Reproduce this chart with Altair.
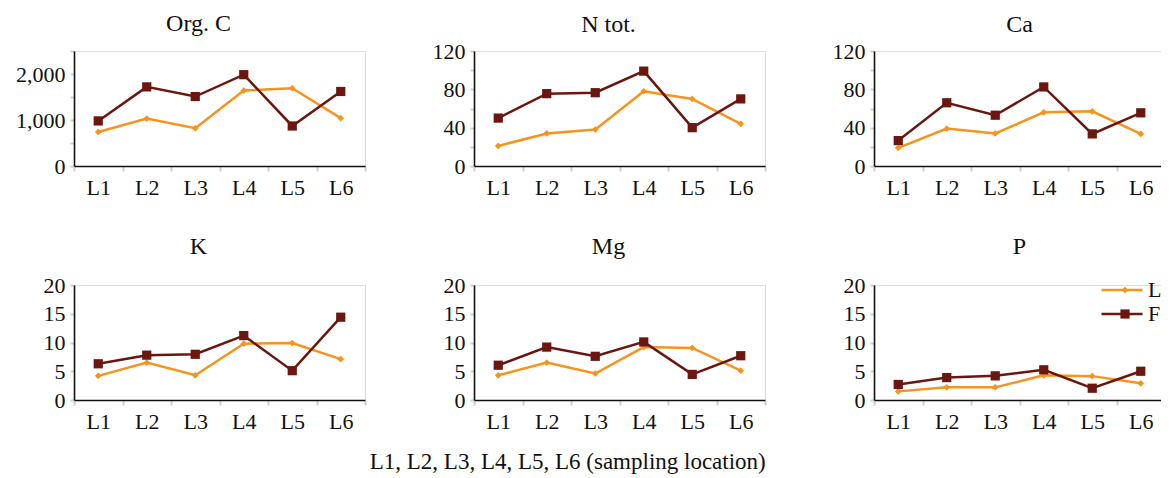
import altair as alt
import pandas as pd

# ---- data ----
locations = ["L1", "L2", "L3", "L4", "L5", "L6"]
series_names = ["L", "F"]

orgc_L = [740, 1030, 820, 1640, 1690, 1040]
orgc_F = [980, 1720, 1510, 1985, 870, 1620]
ntot_L = [21, 34, 38, 78, 70, 44]
ntot_F = [50, 75.5, 76.5, 99, 40, 70]
ca_L = [19, 39, 34, 56, 57, 33.5]
ca_F = [26.5, 66, 53, 82.5, 33.5, 55.5]
k_L = [4.2, 6.5, 4.3, 9.8, 9.9, 7.1]
k_F = [6.3, 7.8, 7.95, 11.2, 5.1, 14.4]
mg_L = [4.3, 6.5, 4.6, 9.2, 9.05, 5.1]
mg_F = [6.05, 9.2, 7.6, 10.1, 4.45, 7.7]
p_L = [1.5, 2.2, 2.2, 4.3, 4.15, 2.9]
p_F = [2.7, 3.9, 4.2, 5.25, 2.05, 5.0]

panel_titles = ["Org. C", "N tot.", "Ca", "K", "Mg", "P"]
y_max = [2500, 120, 120, 20, 20, 20]
y_tick_step = [500, 20, 20, 5, 5, 5]
y_label_step = [1000, 40, 40, 5, 5, 5]
x_title = "L1, L2, L3, L4, L5, L6 (sampling location)"

ORANGE = "#F7931E"
DARK = "#6B1710"
FONT = "Liberation Serif"
W, H = 291, 115


def panel(i, vals_L, vals_F, title_dx, title_offset, legend=False):
    rows = []
    for loc, a, b in zip(locations, vals_L, vals_F):
        rows.append({"loc": loc, "value": a, "series": series_names[0]})
        rows.append({"loc": loc, "value": b, "series": series_names[1]})
    df = pd.DataFrame(rows)
    df["series2"] = df["series"]
    ticks = list(range(0, y_max[i] + 1, y_tick_step[i]))
    step = y_label_step[i]
    if i == 0:
        lab = f"datum.value % {step} == 0 ? format(datum.value, ',') : ''"
    else:
        lab = f"datum.value % {step} == 0 ? datum.label : ''"
    x = alt.X("loc:N", sort=locations, title=None,
              scale=alt.Scale(type="band", domain=locations, paddingInner=0, paddingOuter=0),
              axis=alt.Axis(tickBand="extent", labelAngle=0, labelFont=FONT, labelFontSize=22,
                            labelColor="#111", domainColor="#111", domainWidth=1.6,
                            tickColor="#cfcfcf", tickWidth=2, tickSize=5, labelPadding=6))
    y = alt.Y("value:Q", title=None,
              scale=alt.Scale(domain=[0, y_max[i]], nice=False, zero=True),
              axis=alt.Axis(values=ticks, labelExpr=lab, grid=False, labelFont=FONT,
                            labelFontSize=22, labelColor="#111", domainColor="#111",
                            domainWidth=1.6, tickColor="#cfcfcf", tickWidth=2, tickSize=4,
                            labelPadding=5))
    if legend:
        leg_line = alt.Legend(
            orient="none", legendX=226, legendY=-6, title=None, padding=0,
            labelFont=FONT, labelFontSize=22, labelColor="#111", labelOffset=4,
            symbolType="stroke", symbolSize=1681, symbolStrokeWidth=2.5,
            clipHeight=22, rowPadding=2)
        leg_pts = alt.Legend(
            orient="none", legendX=226, legendY=-6, title=None, padding=0,
            labelExpr="''", labelFontSize=22, symbolStrokeWidth=0, symbolOpacity=1,
            symbolOffset=14, clipHeight=22, rowPadding=2)
    else:
        leg_line = None
        leg_pts = None
    base = alt.Chart(df)
    # stroke scale takes its domain from the data (sorted) so that its legend stays separate
    line = base.mark_line(strokeWidth=2.5).encode(
        x=x, y=y,
        stroke=alt.Stroke("series:N", sort=series_names,
                          scale=alt.Scale(range=[ORANGE, DARK]), legend=leg_line),
    )
    pts = base.mark_point(filled=True, opacity=1).encode(
        x=x, y=y,
        fill=alt.Fill("series2:N", scale=alt.Scale(domain=series_names, range=[ORANGE, DARK]),
                      legend=leg_pts),
        shape=alt.Shape("series2:N", scale=alt.Scale(domain=series_names, range=["diamond", "square"]),
                        legend=leg_pts),
        size=alt.Size("series2:N", scale=alt.Scale(domain=series_names, range=[45, 85]),
                      legend=leg_pts),
    )
    return alt.layer(line, pts).properties(
        width=W, height=H,
        title=alt.TitleParams(panel_titles[i], font=FONT, fontSize=24, fontWeight="normal",
                              color="#111", anchor="middle", frame="group",
                              dx=title_dx, offset=title_offset),
    )


p1 = panel(0, orgc_L, orgc_F, -21, 14)
p2 = panel(1, ntot_L, ntot_F, -11, 3)
p3 = panel(2, ca_L, ca_F, 0, 3)
p4 = panel(3, k_L, k_F, -21, 15)
p5 = panel(4, mg_L, mg_F, -11, 15)
p6 = panel(5, p_L, p_F, 0, 15, legend=True)

chart = alt.concat(p1, p2, p3, p4, p5, p6, columns=3,
                   spacing={"row": 119, "column": 109}, bounds="flush").resolve_scale(
    stroke="independent", fill="independent", shape="independent", size="independent"
).properties(
    title=alt.TitleParams(x_title, orient="bottom", anchor="middle", font=FONT, fontSize=23,
                          fontWeight="normal", color="#111", dx=-23, offset=18),
    padding={"left": 7, "top": 3, "right": -6, "bottom": 0},
).configure_view(stroke=None).configure(background="white")

chart.save("out.html", embed_options={"renderer": "svg", "actions": False})
